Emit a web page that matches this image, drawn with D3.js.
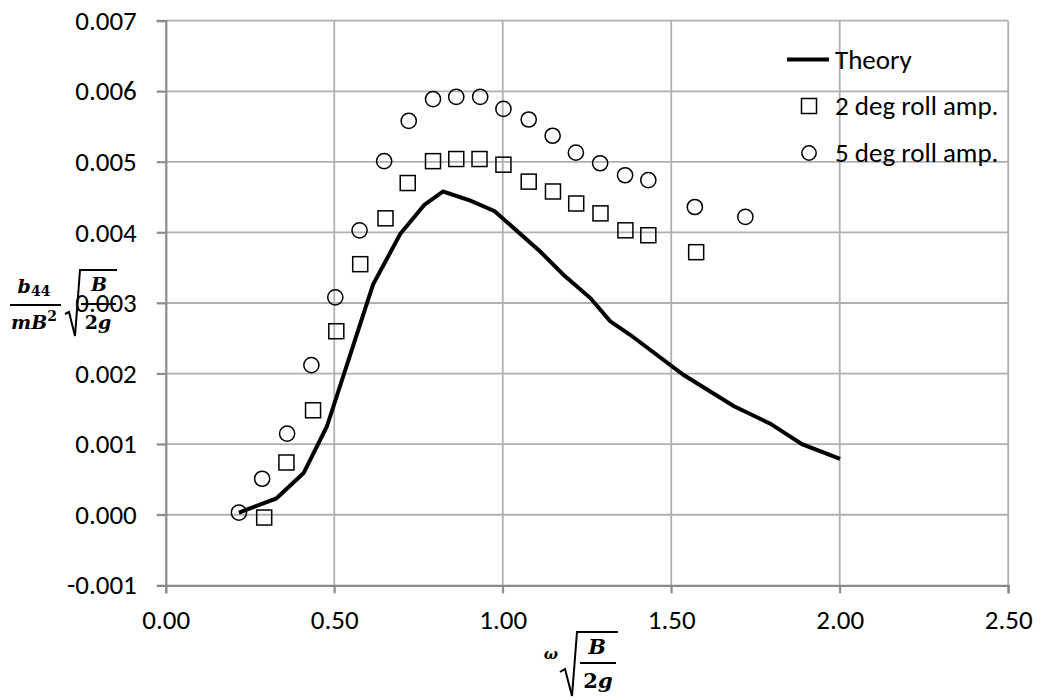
<!DOCTYPE html>
<html>
<head>
<meta charset="utf-8">
<script src="https://cdn.jsdelivr.net/npm/d3@7"></script>
<style>
  html, body { margin: 0; padding: 0; background: #fff; }
  svg { display: block; }
</style>
</head>
<body>
<div id="chart"></div>
<script>
// values
var theoryX = [0.217, 0.328, 0.409, 0.478, 0.615, 0.696, 0.767, 0.823, 0.904, 0.976, 1.111, 1.180, 1.260, 1.319, 1.378, 1.537, 1.685, 1.794, 1.888, 2.001];
var theoryY = [0.00003, 0.00023, 0.00059, 0.00125, 0.00326, 0.00398, 0.00439, 0.00458, 0.00445, 0.00430, 0.00373, 0.00340, 0.00307, 0.00274, 0.00255, 0.00198, 0.00154, 0.00129, 0.00100, 0.00079];

var deg2X = [0.292, 0.358, 0.437, 0.506, 0.577, 0.652, 0.718, 0.793, 0.862, 0.931, 1.002, 1.077, 1.149, 1.218, 1.290, 1.364, 1.432, 1.574];
var deg2Y = [-0.00004, 0.00074, 0.00148, 0.00260, 0.00355, 0.00420, 0.00470, 0.00501, 0.00504, 0.00504, 0.00496, 0.00472, 0.00458, 0.00441, 0.00427, 0.00403, 0.00396, 0.00372];

var deg5X = [0.217, 0.286, 0.360, 0.432, 0.503, 0.575, 0.648, 0.721, 0.793, 0.862, 0.933, 1.002, 1.077, 1.148, 1.217, 1.289, 1.363, 1.432, 1.570, 1.720];
var deg5Y = [0.00003, 0.00051, 0.00115, 0.00212, 0.00308, 0.00403, 0.00501, 0.00558, 0.00589, 0.00592, 0.00592, 0.00575, 0.00560, 0.00537, 0.00513, 0.00498, 0.00481, 0.00474, 0.00436, 0.00422];

var xTicks = [0, 0.5, 1.0, 1.5, 2.0, 2.5];
var yTicks = [-0.001, 0, 0.001, 0.002, 0.003, 0.004, 0.005, 0.006, 0.007];
var legendLabels = ['Theory', '2 deg roll amp.', '5 deg roll amp.'];

var W = 1042, H = 700;
var font = 'Carlito, Calibri, Lato, sans-serif';
var fs = 27;
var mathFont = '"DejaVu Serif", "Liberation Serif", serif';

var svg = d3.select('#chart').append('svg')
  .attr('width', W).attr('height', H)
  .attr('viewBox', '0 0 ' + W + ' ' + H);

var x = d3.scaleLinear().domain([0, 2.5]).range([165.8, 1008.2]);
var y = d3.scaleLinear().domain([-0.001, 0.007]).range([585.3, 20.7]);

// grid
var grid = svg.append('g');
grid.selectAll('.hg').data(yTicks.filter(function (d) { return d !== -0.001; })).join('line')
  .attr('x1', x(0) - 9).attr('x2', x(2.5))
  .attr('y1', function (d) { return y(d); }).attr('y2', function (d) { return y(d); })
  .attr('stroke', '#b0b0b0').attr('stroke-width', 1.8);
grid.selectAll('.vg').data(xTicks.filter(function (d) { return d !== 0; })).join('line')
  .attr('x1', function (d) { return x(d); }).attr('x2', function (d) { return x(d); })
  .attr('y1', y(0.007)).attr('y2', y(-0.001) + 8)
  .attr('stroke', '#b0b0b0').attr('stroke-width', 1.8);

// axes
var yAxis = d3.axisLeft(y).tickValues(yTicks).tickSize(9).tickPadding(20)
  .tickFormat(d3.format('.3f'));
var gy = svg.append('g').attr('transform', 'translate(' + x(0) + ',0)').call(yAxis);
gy.select('.domain').attr('stroke', '#8a8a8a').attr('stroke-width', 2.2);
gy.selectAll('.tick line').attr('stroke', '#8a8a8a').attr('stroke-width', 1.8);
gy.selectAll('.tick text').attr('font-family', font).attr('font-size', fs).attr('fill', '#000')
  .text(function (d) { return d3.format('.3f')(d).replace('−', '-'); });

var xAxis = d3.axisBottom(x).tickValues(xTicks).tickSize(8).tickPadding(17)
  .tickFormat(d3.format('.2f'));
var gx = svg.append('g').attr('transform', 'translate(0,' + y(-0.001) + ')').call(xAxis);
gx.select('.domain').attr('stroke', '#8a8a8a').attr('stroke-width', 2.2);
gx.selectAll('.tick line').attr('stroke', '#8a8a8a').attr('stroke-width', 1.8);
gx.selectAll('.tick text').attr('font-family', font).attr('font-size', fs).attr('fill', '#000');

// theory line
var line = d3.line()
  .x(function (d, i) { return x(theoryX[i]); })
  .y(function (d) { return y(d); });
svg.append('path').datum(theoryY)
  .attr('d', line)
  .attr('fill', 'none').attr('stroke', '#000').attr('stroke-width', 4)
  .attr('stroke-linejoin', 'miter');

// markers
var sq = 15;
svg.append('g').selectAll('rect').data(deg2Y).join('rect')
  .attr('x', function (d, i) { return x(deg2X[i]) - sq / 2; })
  .attr('y', function (d) { return y(d) - sq / 2; })
  .attr('width', sq).attr('height', sq)
  .attr('fill', 'none').attr('stroke', '#000').attr('stroke-width', 1.5);

svg.append('g').selectAll('circle').data(deg5Y).join('circle')
  .attr('cx', function (d, i) { return x(deg5X[i]); })
  .attr('cy', function (d) { return y(d); })
  .attr('r', 7.6)
  .attr('fill', 'none').attr('stroke', '#000').attr('stroke-width', 1.5);

// legend
var lg = svg.append('g');
var ly = [59.5, 106, 153];
lg.append('line').attr('x1', 787).attr('x2', 829).attr('y1', ly[0]).attr('y2', ly[0])
  .attr('stroke', '#000').attr('stroke-width', 4);
lg.append('rect').attr('x', 809 - 7.5).attr('y', ly[1] - 7.5).attr('width', 15).attr('height', 15)
  .attr('fill', 'none').attr('stroke', '#000').attr('stroke-width', 1.5);
lg.append('circle').attr('cx', 809).attr('cy', ly[2]).attr('r', 7.2)
  .attr('fill', 'none').attr('stroke', '#000').attr('stroke-width', 1.5);
lg.selectAll('text').data(legendLabels).join('text')
  .attr('x', 835).attr('y', function (d, i) { return ly[i]; })
  .attr('dy', '0.35em')
  .attr('font-family', font).attr('font-size', fs).attr('fill', '#000')
  .text(function (d) { return d; });

// y axis label: b44/(mB^2) * sqrt(B/2g)
var yl = svg.append('g').attr('font-family', mathFont).attr('font-style', 'italic')
  .attr('font-weight', 'bold').attr('fill', '#000');
var ynum = yl.append('text').attr('x', 34).attr('y', 293).attr('text-anchor', 'middle').attr('font-size', 19);
ynum.append('tspan').text('b');
ynum.append('tspan').attr('font-size', 14).attr('dy', 3).attr('font-style', 'normal').text('44');
yl.append('line').attr('x1', 10).attr('x2', 61).attr('y1', 305).attr('y2', 305)
  .attr('stroke', '#000').attr('stroke-width', 2);
var yden = yl.append('text').attr('x', 34).attr('y', 329).attr('text-anchor', 'middle').attr('font-size', 19);
yden.append('tspan').text('mB');
yden.append('tspan').attr('font-size', 14).attr('dy', -8).attr('font-style', 'normal').text('2');
yl.append('path').attr('d', 'M65,314 L69,312 L75,336 L80,270 L117,270')
  .attr('fill', 'none').attr('stroke', '#000').attr('stroke-width', 2);
yl.append('text').attr('x', 99).attr('y', 291).attr('text-anchor', 'middle').attr('font-size', 19).text('B');
yl.append('line').attr('x1', 81).attr('x2', 116).attr('y1', 304).attr('y2', 304)
  .attr('stroke', '#000').attr('stroke-width', 2);
var y2g = yl.append('text').attr('x', 98).attr('y', 329).attr('text-anchor', 'middle').attr('font-size', 19);
y2g.append('tspan').attr('font-style', 'normal').text('2');
y2g.append('tspan').text('g');

// x axis label: omega * sqrt(B/2g)
var xl = svg.append('g').attr('font-family', mathFont).attr('font-style', 'italic')
  .attr('font-weight', 'bold').attr('fill', '#000');
xl.append('text').attr('x', 551).attr('y', 659).attr('text-anchor', 'middle').attr('font-size', 15).text('ω');
xl.append('path').attr('d', 'M560,672 L565,669 L572,696 L577,632 L618,632')
  .attr('fill', 'none').attr('stroke', '#000').attr('stroke-width', 2);
xl.append('text').attr('x', 597).attr('y', 654).attr('text-anchor', 'middle').attr('font-size', 21).text('B');
xl.append('line').attr('x1', 580).attr('x2', 616).attr('y1', 663).attr('y2', 663)
  .attr('stroke', '#000').attr('stroke-width', 2);
var x2g = xl.append('text').attr('x', 598).attr('y', 688).attr('text-anchor', 'middle').attr('font-size', 21);
x2g.append('tspan').attr('font-style', 'normal').text('2');
x2g.append('tspan').text('g');
</script>
</body>
</html>
